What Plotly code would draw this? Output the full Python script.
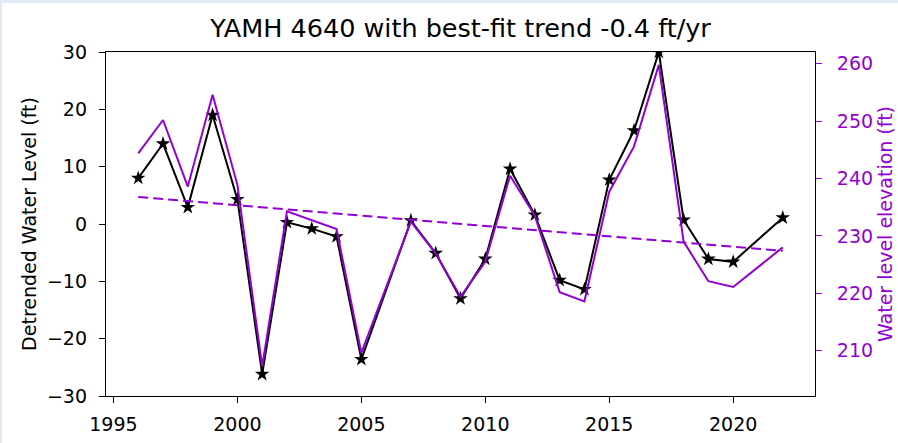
import plotly.graph_objects as go

# Survey years (no readings in 2006 and 2021)
years = [1996, 1997, 1998, 1999, 2000, 2001, 2002, 2003, 2004, 2005,
         2007, 2008, 2009, 2010, 2011, 2012, 2013, 2014, 2015, 2016,
         2017, 2018, 2019, 2020, 2022]

# Water level with the linear trend removed (ft)
detrended = [8.0, 14.0, 2.9, 19.0, 4.3, -26.2, 0.3, -0.8, -2.2, -23.6,
             0.6, -5.1, -13.0, -6.1, 9.6, 1.6, -9.8, -11.4, 7.7, 16.3,
             30.0, 0.7, -6.1, -6.6, 1.1]

# Measured water level elevation (ft)
elevation = [244.4, 250.2, 238.6, 254.6, 238.9, 207.3, 234.3, 232.8, 231.2, 209.6,
             232.5, 226.9, 219.4, 225.5, 240.5, 233.5, 220.2, 218.6, 237.7, 245.6,
             259.8, 229.0, 222.1, 221.1, 228.0]

# Best-fit trend line end points (ft)
trend_years = [1996, 2022]
trend_values = [236.8, 227.4]

well_name = "YAMH 4640"
trend_rate = -0.4

x_ticks = [1995, 2000, 2005, 2010, 2015, 2020]
left_ticks = [-30, -20, -10, 0, 10, 20, 30]
right_ticks = [210, 220, 230, 240, 250, 260]

PURPLE = "#9400D3"
FONT = "DejaVu Sans"
W, H = 898, 443
L, R, T, B = 106, 83, 52, 47

fig = go.Figure()

fig.add_trace(go.Scatter(
    x=years, y=detrended, mode="lines+markers",
    line=dict(color="black", width=2),
    marker=dict(symbol="star", size=11, color="black"),
    yaxis="y", showlegend=False,
))
fig.add_trace(go.Scatter(
    x=years, y=elevation, mode="lines",
    line=dict(color=PURPLE, width=2),
    yaxis="y2", showlegend=False,
))
fig.add_trace(go.Scatter(
    x=trend_years, y=trend_values, mode="lines",
    line=dict(color=PURPLE, width=2, dash="10px,5px"),
    yaxis="y2", showlegend=False,
))

tick_font = dict(family=FONT, size=19, color="black")

fig.update_layout(
    template="none",
    width=W, height=H,
    margin=dict(l=L, r=R, t=T, b=B, pad=0, autoexpand=False),
    paper_bgcolor="white", plot_bgcolor="white",
    font=dict(family=FONT, size=19, color="black"),
    title=dict(
        text=f"{well_name} with best-fit trend {trend_rate} ft/yr",
        font=dict(family=FONT, size=25.5, color="black"),
        x=0.5, xref="paper", xanchor="center",
        y=1 - 28 / H, yref="container", yanchor="middle",
    ),
    xaxis=dict(
        range=[1994.7, 2023.3], tickvals=x_ticks, automargin=False,
        showgrid=False, zeroline=False,
        showline=True, linecolor="black", linewidth=1.3, mirror=True,
        ticks="outside", ticklen=6, tickwidth=1, tickcolor="black",
        tickfont=tick_font, ticklabelstandoff=5,
    ),
    yaxis=dict(
        range=[-30, 30], tickvals=left_ticks, automargin=False,
        showgrid=False, zeroline=False,
        showline=True, linecolor="black", linewidth=1.3, mirror=True,
        ticks="outside", ticklen=6, tickwidth=1, tickcolor="black",
        tickfont=tick_font, ticklabelstandoff=8,
        title=dict(text="Detrended Water Level (ft)",
                   font=dict(family=FONT, size=19, color="black"), standoff=5),
    ),
    yaxis2=dict(
        range=[202.1, 262.05], tickvals=right_ticks, automargin=False,
        overlaying="y", side="right",
        showgrid=False, zeroline=False, showline=False,
        ticks="outside", ticklen=6, tickwidth=1, tickcolor=PURPLE,
        tickfont=dict(family=FONT, size=19, color=PURPLE), ticklabelstandoff=11,
        title=dict(text="Water level elevation (ft)",
                   font=dict(family=FONT, size=19, color=PURPLE), standoff=6),
    ),
)

# Thin light-blue frame along the top and left page edges
pw, ph = W - L - R, H - T - B
fig.add_shape(type="rect", xref="paper", yref="paper",
              x0=-L / pw, x1=-(L - 2) / pw, y0=-B / ph, y1=(ph + T) / ph,
              fillcolor="#dfeaf6", line_width=0, layer="below")
fig.add_shape(type="rect", xref="paper", yref="paper",
              x0=-L / pw, x1=(pw + R) / pw, y0=(ph + T - 3) / ph, y1=(ph + T) / ph,
              fillcolor="#dfeaf6", line_width=0, layer="below")

fig.write_html("out.html")
